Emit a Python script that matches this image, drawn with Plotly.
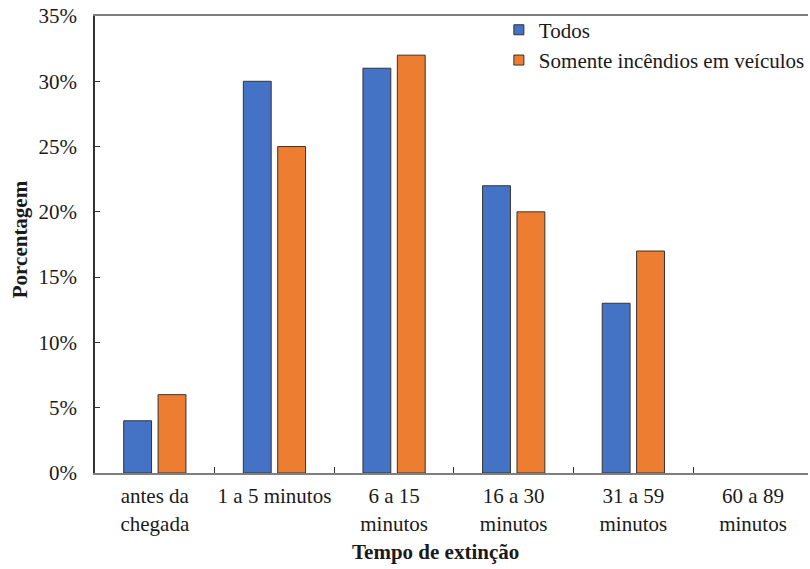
import plotly.graph_objects as go

categorias = ["antes da<br>chegada", "1 a 5 minutos", "6 a 15<br>minutos",
              "16 a 30<br>minutos", "31 a 59<br>minutos", "60 a 89<br>minutos"]
todos = [4, 30, 31, 22, 13, 0]
veiculos = [6, 25, 32, 20, 17, 0]
y_ticks = [0, 5, 10, 15, 20, 25, 30, 35]
y_labels = [f"{v}%" for v in y_ticks]

AZUL = "#4472C4"
LARANJA = "#ED7D31"
fonte = dict(family="Liberation Serif, Times New Roman, serif", size=21, color="#1a1a1a")


def contorno(valores):
    # zero-height bars get no outline
    return dict(color="#333333", width=[1 if v > 0 else 0 for v in valores])


fig = go.Figure()
fig.add_trace(go.Bar(x=categorias, y=todos, name="Todos", showlegend=False,
                     marker=dict(color=AZUL, line=contorno(todos))))
fig.add_trace(go.Bar(x=categorias, y=veiculos, name="Somente incêndios em veículos",
                     showlegend=False,
                     marker=dict(color=LARANJA, line=contorno(veiculos))))

# small square legend keys
for nome, cor in [("Todos", AZUL), ("Somente incêndios em veículos", LARANJA)]:
    fig.add_trace(go.Scatter(x=[None], y=[None], mode="markers", name=nome,
                             marker=dict(symbol="square", size=10, color=cor,
                                         line=dict(color="#333333", width=1))))

pw = 810 - 95
ph = 569 - 16 - 96

fig.update_layout(
    width=810, height=569,
    margin=dict(l=95, r=0, t=16, b=96),
    paper_bgcolor="white", plot_bgcolor="white",
    font=fonte,
    barmode="group", bargap=0.425, bargroupgap=0.19,
    legend=dict(x=(500 - 95) / pw, y=1.014, xanchor="left", yanchor="top",
                bgcolor="rgba(0,0,0,0)", font=fonte, itemwidth=30),
    showlegend=True,
    xaxis=dict(type="category", range=[-0.5, 5.46], showline=True,
               linecolor="#7f7f7f", linewidth=2, mirror=True,
               ticks="inside", tickson="boundaries", ticklen=6,
               tickcolor="#333333", showgrid=False, tickfont=fonte,
               tickangle=0, ticklabelstandoff=3),
    yaxis=dict(range=[0, 35], tickvals=y_ticks, ticktext=y_labels,
               showline=True, linecolor="#333333", linewidth=1.5,
               ticks="inside", ticklen=5, tickcolor="#333333",
               showgrid=False, zeroline=False, tickfont=fonte,
               ticklabelstandoff=12),
    annotations=[
        dict(text="<b>Porcentagem</b>", x=(20 - 95) / pw, y=(569 - 96 - 239) / ph,
             xref="paper", yref="paper", textangle=-90, showarrow=False,
             font=fonte, xanchor="center", yanchor="middle"),
        dict(text="<b>Tempo de extinção</b>", x=(436 - 95) / pw, y=(569 - 96 - 552) / ph,
             xref="paper", yref="paper", showarrow=False, font=fonte,
             xanchor="center", yanchor="middle"),
    ],
)

fig.write_html("out.html")
